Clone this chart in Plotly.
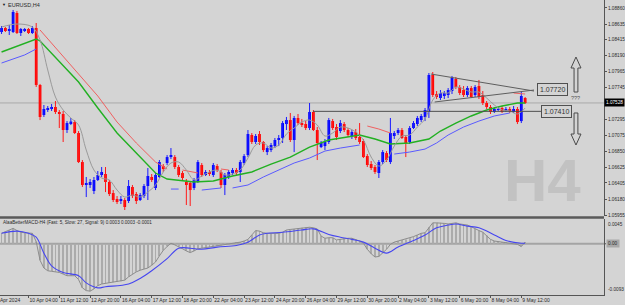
import plotly.graph_objects as go

# ---------------- data (H4 bars, index 0 = 9 Apr 2024 00:00) ----------------
bar_index = list(range(137))

opens = [1.08523, 1.08579, 1.08551, 1.08523, 1.08790, 1.08509, 1.08537, 1.08565, 1.08509, 1.08579,
         1.07780, 1.07359, 1.07429, 1.07443, 1.07471, 1.07401, 1.07373, 1.07148, 1.07246, 1.07260,
         1.07106, 1.06699, 1.06377, 1.06377, 1.06292, 1.06447, 1.06517, 1.06531, 1.06419, 1.06264,
         1.06180, 1.06152, 1.06166, 1.06152, 1.06349, 1.06250, 1.06166, 1.06222, 1.06363, 1.06489,
         1.06335, 1.06489, 1.06643, 1.06685, 1.06783, 1.06769, 1.06629, 1.06545, 1.06419, 1.06405,
         1.06335, 1.06419, 1.06657, 1.06531, 1.06559, 1.06517, 1.06643, 1.06559, 1.06377, 1.06489,
         1.06545, 1.06587, 1.06559, 1.06685, 1.06797, 1.07078, 1.06980, 1.07092, 1.06980, 1.06839,
         1.06867, 1.06923, 1.07008, 1.07036, 1.07232, 1.07288, 1.07008, 1.07317, 1.07246, 1.07232,
         1.07176, 1.07401, 1.07148, 1.06909, 1.06923, 1.06980, 1.07274, 1.07190, 1.07134, 1.07232,
         1.07148, 1.07064, 1.07120, 1.07050, 1.06994, 1.06783, 1.06671, 1.06629, 1.06545, 1.06699,
         1.06825, 1.06699, 1.07064, 1.07106, 1.07148, 1.07050, 1.06980, 1.07176, 1.07232, 1.07288,
         1.07331, 1.07401, 1.07920, 1.07653, 1.07597, 1.07625, 1.07639, 1.07695, 1.07864, 1.07751,
         1.07709, 1.07639, 1.07737, 1.07639, 1.07765, 1.07639, 1.07527, 1.07471, 1.07401, 1.07429,
         1.07457, 1.07415, 1.07443, 1.07401, 1.07443, 1.07274, 1.07597]

highs = [1.08607, 1.08593, 1.08621, 1.08832, 1.08818, 1.08579, 1.08579, 1.08579, 1.08607, 1.08649,
         1.07794, 1.07499, 1.07485, 1.07513, 1.07555, 1.07429, 1.07415, 1.07274, 1.07317, 1.07288,
         1.07134, 1.06727, 1.06489, 1.06461, 1.06489, 1.06573, 1.06629, 1.06629, 1.06447, 1.06306,
         1.06222, 1.06222, 1.06194, 1.06447, 1.06377, 1.06278, 1.06264, 1.06391, 1.06615, 1.06531,
         1.06545, 1.06727, 1.06671, 1.06797, 1.06895, 1.06797, 1.06657, 1.06573, 1.06461, 1.06433,
         1.06475, 1.06727, 1.06685, 1.06587, 1.06587, 1.06685, 1.06671, 1.06587, 1.06545, 1.06587,
         1.06615, 1.06615, 1.06727, 1.06811, 1.07148, 1.07106, 1.07092, 1.07134, 1.06994, 1.06923,
         1.06966, 1.07036, 1.07078, 1.07274, 1.07331, 1.07387, 1.07345, 1.07373, 1.07303, 1.07274,
         1.07527, 1.07429, 1.07190, 1.06994, 1.07022, 1.07317, 1.07303, 1.07232, 1.07288, 1.07260,
         1.07176, 1.07148, 1.07162, 1.07246, 1.07022, 1.06811, 1.06713, 1.06657, 1.06727, 1.06867,
         1.06853, 1.07317, 1.07134, 1.07176, 1.07176, 1.07078, 1.07204, 1.07274, 1.07345, 1.07373,
         1.07457, 1.07948, 1.07962, 1.07695, 1.07709, 1.07695, 1.07737, 1.07906, 1.07892, 1.07779,
         1.07765, 1.07765, 1.07765, 1.07779, 1.07850, 1.07695, 1.07555, 1.07499, 1.07471, 1.07471,
         1.07485, 1.07471, 1.07471, 1.07485, 1.07471, 1.07681, 1.07611]

lows = [1.08495, 1.08523, 1.08481, 1.08509, 1.08495, 1.08467, 1.08523, 1.08495, 1.08495, 1.07752,
        1.07288, 1.07331, 1.07401, 1.07415, 1.07373, 1.07176, 1.06980, 1.07106, 1.07218, 1.07092,
        1.06685, 1.06349, 1.06208, 1.06335, 1.06250, 1.06433, 1.06489, 1.06278, 1.06222, 1.06138,
        1.06110, 1.06110, 1.06026, 1.06124, 1.06194, 1.06110, 1.06152, 1.06194, 1.06166, 1.06419,
        1.06306, 1.06475, 1.06559, 1.06657, 1.06741, 1.06601, 1.06489, 1.06447, 1.06096, 1.06082,
        1.06306, 1.06405, 1.06489, 1.06503, 1.06503, 1.06489, 1.06559, 1.06335, 1.06236, 1.06461,
        1.06517, 1.06517, 1.06419, 1.06657, 1.06769, 1.06952, 1.06952, 1.06938, 1.06839, 1.06797,
        1.06839, 1.06895, 1.06923, 1.06966, 1.07148, 1.06980, 1.06839, 1.07218, 1.07190, 1.07148,
        1.07148, 1.07134, 1.06727, 1.06895, 1.06867, 1.06952, 1.07148, 1.07008, 1.07106, 1.07120,
        1.07050, 1.07022, 1.07008, 1.06952, 1.06755, 1.06629, 1.06587, 1.06531, 1.06475, 1.06671,
        1.06699, 1.06671, 1.07022, 1.07078, 1.07022, 1.06769, 1.06952, 1.07162, 1.07204, 1.07260,
        1.07274, 1.07317, 1.07611, 1.07583, 1.07569, 1.07583, 1.07597, 1.07653, 1.07723, 1.07639,
        1.07611, 1.07611, 1.07597, 1.07611, 1.07583, 1.07499, 1.07443, 1.07373, 1.07387, 1.07415,
        1.07387, 1.07401, 1.07387, 1.07387, 1.07232, 1.07246, 1.07513]

closes = [1.08579, 1.08537, 1.08565, 1.08804, 1.08509, 1.08565, 1.08565, 1.08509, 1.08579, 1.07780,
          1.07331, 1.07443, 1.07457, 1.07471, 1.07401, 1.07373, 1.07148, 1.07246, 1.07267, 1.07106,
          1.06699, 1.06377, 1.06391, 1.06419, 1.06447, 1.06517, 1.06559, 1.06419, 1.06250, 1.06166,
          1.06138, 1.06180, 1.06068, 1.06363, 1.06222, 1.06152, 1.06236, 1.06363, 1.06503, 1.06447,
          1.06517, 1.06699, 1.06601, 1.06769, 1.06797, 1.06629, 1.06517, 1.06475, 1.06377, 1.06306,
          1.06447, 1.06699, 1.06517, 1.06559, 1.06531, 1.06657, 1.06587, 1.06377, 1.06517, 1.06559,
          1.06587, 1.06545, 1.06699, 1.06783, 1.07092, 1.06980, 1.07064, 1.06980, 1.06867, 1.06895,
          1.06938, 1.07008, 1.07036, 1.07246, 1.07288, 1.07008, 1.07317, 1.07246, 1.07218, 1.07176,
          1.07401, 1.07148, 1.06966, 1.06966, 1.06980, 1.07288, 1.07176, 1.07050, 1.07246, 1.07148,
          1.07078, 1.07120, 1.07036, 1.06980, 1.06769, 1.06657, 1.06615, 1.06559, 1.06699, 1.06839,
          1.06727, 1.07106, 1.07106, 1.07148, 1.07036, 1.06966, 1.07176, 1.07246, 1.07317, 1.07345,
          1.07429, 1.07920, 1.07639, 1.07611, 1.07667, 1.07667, 1.07709, 1.07878, 1.07751, 1.07667,
          1.07639, 1.07737, 1.07611, 1.07751, 1.07611, 1.07527, 1.07471, 1.07401, 1.07443, 1.07443,
          1.07401, 1.07443, 1.07415, 1.07443, 1.07260, 1.07625, 1.07527]

# moving averages (sampled readings; None = line not drawn)
fast_ma_x = [0, 4, 8, 10, 12, 14, 16, 18, 20, 22, 24, 26, 28, 30, 32, 34, 36, 38, 40, 42, 44, 46, 48, 50,
             52, 54, 56, 58, 60, 62, 64, 66, 68, 70, 72, 74, 76, 78, 80, 82, 84, 86, 88, 90, 92, 94, 96,
             98, 100, 102, 104, 106, 108, 110, 112, 114, 116, 118, 120, 122, 124, 126, 128, 130, 132, 134, 136]
fast_ma = [1.08593, 1.08635, 1.08593, 1.08411, 1.07990, 1.07611, 1.07429, 1.07317, 1.07218, 1.06867,
           1.06587, 1.06475, 1.06447, 1.06306, 1.06208, 1.06236, 1.06208, 1.06278, 1.06377, 1.06559,
           1.06685, 1.06699, 1.06587, 1.06447, 1.06503, 1.06559, 1.06587, 1.06517, 1.06531, 1.06587,
           1.06755, 1.06938, 1.06966, 1.06895, 1.06938, 1.07092, 1.07176, 1.07260, 1.07288, 1.07218,
           1.07064, 1.07106, 1.07190, 1.07176, 1.07120, 1.07008, 1.06769, 1.06643, 1.06727, 1.06923,
           1.07064, 1.07078, 1.07190, 1.07303, 1.07569, 1.07667, 1.07667, 1.07751, 1.07723, 1.07681,
           1.07681, 1.07597, 1.07499, 1.07429, 1.07415, 1.07373, 1.07457]

green_ma_x = [0, 5, 9, 10, 15, 20, 25, 30, 35, 40, 43, 46, 50, 55, 60, 65, 70, 75, 80, 85, 90, 93, 97,
              101, 106, 111, 114, 118, 122, 126, 130, 134, 136]
green_ma = [1.08243, 1.08341, 1.08425, 1.08397, 1.08102, 1.07822, 1.07457, 1.07106, 1.06825, 1.06545,
            1.06461, 1.06447, 1.06419, 1.06433, 1.06503, 1.06559, 1.06671, 1.06769, 1.06909, 1.07008,
            1.07050, 1.07078, 1.07022, 1.06952, 1.06966, 1.07022, 1.07134, 1.07246, 1.07345, 1.07429,
            1.07485, 1.07527, 1.07527]

red_ma_x = [10, 15, 20, 25, 30, 35, 40, 43, None, 47, 51, None, 57, 59, None, 95, 98, 101, None, 133, 136]
red_ma = [1.08551, 1.08243, 1.07934, 1.07625, 1.07260, 1.06966, 1.06699, 1.06601, None, 1.06587, 1.06545,
          None, 1.06601, 1.06587, None, 1.07204, 1.07162, 1.07106, None, 1.07667, 1.07653]

blue_ma_x = [0, 3, 6, 9, None, 44, 46, None, 52, 55, 57, None, 60, 64, 68, 72, 76, 80, 84, 88, 93, None,
             102, 106, 110, 113, 116, 120, 124, 128, 132]
blue_ma = [1.08088, 1.08144, 1.08201, 1.08285, None, 1.06320, 1.06320, None, 1.06306, 1.06320, 1.06335,
           None, 1.06335, 1.06377, 1.06489, 1.06587, 1.06685, 1.06755, 1.06853, 1.06895, 1.06938, None,
           1.06811, 1.06839, 1.06881, 1.06966, 1.07078, 1.07190, 1.07274, 1.07345, 1.07387]

# MACD sub-window
macd = [0.0019, 0.0022, 0.0025, 0.0028, 0.0024, 0.0021, 0.0020, 0.0019, 0.0019, 0.0004,
        -0.0030, -0.0044, -0.0049, -0.0050, -0.0051, -0.0052, -0.0055, -0.0058, -0.0058, -0.0058,
        -0.0065, -0.0080, -0.0085, -0.0086, -0.0082, -0.0076, -0.0073, -0.0072, -0.0071, -0.0070,
        -0.0069, -0.0068, -0.0066, -0.0060, -0.0055, -0.0051, -0.0048, -0.0046, -0.0044, -0.0039,
        -0.0033, -0.0022, -0.0012, -0.0005, 0.0001, -0.0002, -0.0005, -0.0009, -0.0013, -0.0016,
        -0.0013, -0.0009, -0.0008, -0.0007, -0.0006, -0.0005, -0.0004, -0.0003, -0.0002, -0.0001,
        0.0001, 0.0002, 0.0003, 0.0005, 0.0008, 0.0016, 0.0024, 0.0023, 0.0020, 0.0019,
        0.0019, 0.0019, 0.0019, 0.0021, 0.0025, 0.0026, 0.0027, 0.0028, 0.0029, 0.0030,
        0.0030, 0.0029, 0.0027, 0.0014, 0.0010, 0.0011, 0.0011, 0.0007, 0.0008, 0.0010,
        0.0010, 0.0010, 0.0008, 0.0005, 0.0001, -0.0010, -0.0018, -0.0024, -0.0023, -0.0017,
        -0.0010, -0.0001, 0.0003, 0.0005, 0.0007, 0.0008, 0.0010, 0.0013, 0.0016, 0.0019,
        0.0020, 0.0030, 0.0038, 0.0038, 0.0038, 0.0037, 0.0036, 0.0037, 0.0038, 0.0036,
        0.0035, 0.0034, 0.0031, 0.0027, 0.0024, 0.0021, 0.0015, 0.0008, 0.0005, 0.0004,
        0.0003, 0.0002, 0.0001, 0.0001, -0.0001, -0.0005, 0.0003]

signal_x = [0, 4, 7, 9, 11, 13, 16, 20, 22, 25, 27, 33, 36, 39, 43, 46, 49, 52, 56, 61, 64, 67, 69, 73,
            78, 81, 85, 88, 91, 94, 97, 100, 103, 107, 110, 113, 116, 118, 121, 124, 128, 131, 135, 136]
signal = [0.0019, 0.0023, 0.0019, 0.0012, -0.0017, -0.0040, -0.0052, -0.0058, -0.0071, -0.0080,
          -0.0078, -0.0073, -0.0063, -0.0049, -0.0027, -0.0008, -0.0008, -0.0010, -0.0006, -0.0003,
          0.0003, 0.0016, 0.0019, 0.0021, 0.0025, 0.0027, 0.0017, 0.0012, 0.0008, 0.0003,
          -0.0008, -0.0017, -0.0006, 0.0006, 0.0016, 0.0029, 0.0034, 0.0036, 0.0032, 0.0029,
          0.0016, 0.0006, 0.0001, 0.0001]

# axis labels
time_tick_idx = [7, 15, 23, 31, 39, 47, 55, 63, 71, 79, 87, 95, 103, 111, 119, 127, 135]
time_tick_text = ["10 Apr 04:00", "11 Apr 12:00", "12 Apr 20:00", "16 Apr 04:00", "17 Apr 12:00",
                  "18 Apr 20:00", "22 Apr 04:00", "23 Apr 12:00", "24 Apr 20:00", "26 Apr 04:00",
                  "29 Apr 12:00", "30 Apr 20:00", "2 May 04:00", "3 May 12:00", "6 May 20:00",
                  "8 May 04:00", "9 May 12:00"]
first_date_label = "9 Apr 2024"
price_ticks = [1.08860, 1.08635, 1.08415, 1.08190, 1.07965, 1.07745, 1.07295, 1.07075, 1.06850,
               1.06625, 1.06405, 1.06180, 1.05955]
price_tick_text = ["1.08860", "1.08635", "1.08415", "1.08190", "1.07965", "1.07745", "1.07295",
                   "1.07075", "1.06850", "1.06625", "1.06405", "1.06180", "1.05955"]
macd_max, macd_min = 0.0045, -0.0093
macd_max_text, macd_zero_text, macd_min_text = "0.0045", "0.00", "-0.0093"

bid_price = 1.07528
level_upper = 1.07720
level_lower = 1.07410

# ---------------- figure ----------------
BG = "#d4d4d4"
FONT = "Liberation Sans, Arial, sans-serif"
TXT = "#2a2a2a"
AXF = 4.7

fig = go.Figure()

bull = [i for i in bar_index if closes[i] >= opens[i]]
bear = [i for i in bar_index if closes[i] < opens[i]]


def wicks(ids):
    xs, ys = [], []
    for i in ids:
        xs += [i, i, None]
        ys += [lows[i], highs[i], None]
    return xs, ys


for ids, col in ((bull, "#1a1aff"), (bear, "#ff1a1a")):
    wx, wy = wicks(ids)
    fig.add_trace(go.Scatter(x=wx, y=wy, mode="lines", line=dict(color=col, width=1),
                             hoverinfo="skip", xaxis="x", yaxis="y"))
for ids, col in ((bull, "#0000ff"), (bear, "#ff0000")):
    fig.add_trace(go.Bar(x=ids, y=[closes[i] - opens[i] for i in ids], base=[opens[i] for i in ids],
                         width=0.72, marker=dict(color=col, line=dict(width=0)),
                         xaxis="x", yaxis="y"))

fig.add_trace(go.Scatter(x=blue_ma_x, y=blue_ma, mode="lines", line=dict(color="#5a5aff", width=1),
                         connectgaps=False, xaxis="x", yaxis="y"))
fig.add_trace(go.Scatter(x=green_ma_x, y=green_ma, mode="lines", line=dict(color="#22b022", width=1.4),
                         xaxis="x", yaxis="y"))
fig.add_trace(go.Scatter(x=red_ma_x, y=red_ma, mode="lines", line=dict(color="#f06060", width=1),
                         connectgaps=False, xaxis="x", yaxis="y"))
fig.add_trace(go.Scatter(x=fast_ma_x, y=fast_ma, mode="lines", line=dict(color="#9a9a9a", width=1),
                         line_shape="spline", xaxis="x", yaxis="y"))

# MACD window
fig.add_trace(go.Bar(x=bar_index, y=macd, width=0.22, marker=dict(color="#ababab", line=dict(width=0)),
                     xaxis="x2", yaxis="y2"))
fig.add_trace(go.Scatter(x=bar_index, y=macd, mode="lines", line=dict(color="#8c8c8c", width=1),
                         xaxis="x2", yaxis="y2"))
fig.add_trace(go.Scatter(x=signal_x, y=signal, mode="lines", line=dict(color="#4646f0", width=1.1),
                         line_shape="spline", xaxis="x2", yaxis="y2"))

H = 305
PB = 10
ph = H - PB
PW = 604


def py(pix):
    return (ph - pix) / ph


XR = [-0.403, 156.48]

shapes = [
    dict(type="line", xref="x", yref="y", x0=XR[0], x1=XR[1], y0=bid_price, y1=bid_price,
         line=dict(color="#a9a9a9", width=1), layer="below"),
    dict(type="line", xref="x2", yref="y2", x0=XR[0], x1=XR[1], y0=0, y1=0,
         line=dict(color="#a4a4a4", width=2), layer="below"),
    dict(type="line", xref="paper", yref="paper", x0=0, x1=1, y0=py(217.5), y1=py(217.5),
         line=dict(color="#5a5a5a", width=2.5)),
    dict(type="line", xref="x", yref="y", x0=111.5, y0=1.07934, x1=138.3, y1=1.07695,
         line=dict(color="#5e5e5e", width=1)),
    dict(type="line", xref="x", yref="y", x0=112.5, y0=1.07541, x1=138.3, y1=1.07709,
         line=dict(color="#5e5e5e", width=1)),
    dict(type="line", xref="x", yref="y", x0=80.9, y0=level_lower, x1=140.1, y1=level_lower,
         line=dict(color="#4e4e4e", width=1)),
    dict(type="path", xref="x", yref="y",
         path="M 149.2,1.08172 L 150.5,1.08018 L 149.7,1.08018 L 149.7,1.07681 L 148.7,1.07681 "
              "L 148.7,1.08018 L 147.9,1.08018 Z",
         line=dict(color="#4a4a4a", width=1)),
    dict(type="path", xref="x", yref="y",
         path="M 148.7,1.07387 L 149.7,1.07387 L 149.7,1.07092 L 150.5,1.07092 L 149.2,1.06938 "
              "L 147.9,1.07092 L 148.7,1.07092 Z",
         line=dict(color="#4a4a4a", width=1)),
    dict(type="line", xref="paper", yref="y2", x0=1, x1=1 + 2 / PW, y0=0, y1=0,
         line=dict(color="#555", width=1)),
]

annotations = [
    dict(text="<b>H4</b>", xref="x", yref="y", x=140.6, y=1.06447, showarrow=False,
         font=dict(family=FONT, size=60, color="#c2c2c2"), xanchor="center", yanchor="middle"),
    dict(text="▼", xref="paper", yref="paper", x=0.0, y=py(5), showarrow=False, xanchor="left",
         yanchor="middle", font=dict(family=FONT, size=4, color="#111")),
    dict(text="EURUSD,H4", xref="paper", yref="paper", x=6 / PW, y=py(5), showarrow=False,
         xanchor="left", yanchor="middle", font=dict(family=FONT, size=5.5, color=TXT)),
    dict(text="AlaaBetterMACD-H4 (Fast: 5, Slow: 27, Signal: 9) 0.0003 0.0003 -0.0001",
         xref="paper", yref="paper", x=0.5 / PW, y=py(222.5), showarrow=False, xanchor="left",
         yanchor="middle", font=dict(family=FONT, size=4.6, color=TXT)),
    dict(text=first_date_label, xref="paper", yref="paper", x=0, xshift=-6, y=py(300), showarrow=False,
         xanchor="left", yanchor="middle", font=dict(family=FONT, size=5, color=TXT)),
    dict(text="1.07720", xref="x", yref="y", x=139.1, y=level_upper, showarrow=False,
         xanchor="left", yanchor="middle", bordercolor="#505050", borderwidth=1, borderpad=2,
         font=dict(family=FONT, size=7, color="#333")),
    dict(text="1.07410", xref="x", yref="y", x=140.1, y=level_lower, showarrow=False,
         xanchor="left", yanchor="middle", bordercolor="#505050", borderwidth=1, borderpad=2,
         font=dict(family=FONT, size=7, color="#333")),
    dict(text="???", xref="x", yref="y", x=149.2, y=1.07597, showarrow=False,
         xanchor="center", yanchor="middle", font=dict(family=FONT, size=5.5, color="#555")),
    dict(text="1.07528", xref="paper", yref="y", x=1.0, y=bid_price, showarrow=False,
         xanchor="left", yanchor="middle", bgcolor="#000000", borderpad=1,
         font=dict(family=FONT, size=AXF, color="#ffffff")),
    dict(text=macd_max_text, xref="paper", yref="y2", x=1 + 2 / PW, y=macd_max, showarrow=False,
         xanchor="left", yanchor="top", yshift=-1, font=dict(family=FONT, size=AXF, color=TXT)),
    dict(text=macd_zero_text, xref="paper", yref="y2", x=1 + 2 / PW, y=0, showarrow=False,
         xanchor="left", yanchor="middle", bgcolor="#a8a8a8",
         font=dict(family=FONT, size=AXF, color=TXT)),
    dict(text=macd_min_text, xref="paper", yref="y2", x=1 + 2 / PW, y=macd_min, showarrow=False,
         xanchor="left", yanchor="bottom", yshift=1, font=dict(family=FONT, size=AXF, color=TXT)),
]

axis_common = dict(showgrid=False, zeroline=False, fixedrange=True, automargin=False)

fig.update_layout(
    width=625, height=H,
    margin=dict(l=0, r=21, t=0, b=PB, autoexpand=False),
    paper_bgcolor=BG, plot_bgcolor=BG,
    showlegend=False, barmode="overlay",
    font=dict(family=FONT, size=5, color=TXT),
    xaxis=dict(domain=[0, 1], anchor="y", range=XR, showticklabels=False, ticks="",
               showline=False, **axis_common),
    xaxis2=dict(domain=[0, 1], anchor="y2", range=XR, matches="x", tickmode="array",
                tickvals=time_tick_idx, ticktext=time_tick_text, ticklabelposition="outside right",
                tickangle=0, ticks="outside", ticklen=2, tickcolor="#555",
                tickfont=dict(size=5, color=TXT),
                showline=True, linecolor="#555", linewidth=1, **axis_common),
    yaxis=dict(domain=[py(216), 1], anchor="x", side="right", range=[1.05942, 1.08972],
               tickmode="array", tickvals=price_ticks, ticktext=price_tick_text,
               ticks="outside", ticklen=2, tickcolor="#555", tickfont=dict(size=AXF, color=TXT),
               showline=True, linecolor="#555", linewidth=1, **axis_common),
    yaxis2=dict(domain=[0, py(219)], anchor="x2", side="right", range=[macd_min, macd_max],
                showticklabels=False, ticks="",
                showline=True, linecolor="#555", linewidth=1, **axis_common),
    shapes=shapes,
    annotations=annotations,
)

fig.write_html("out.html")
